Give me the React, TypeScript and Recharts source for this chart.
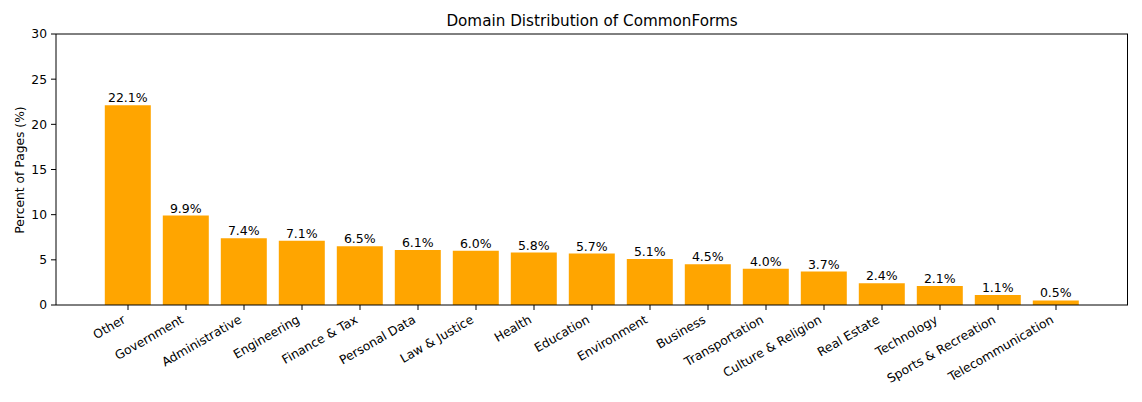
import React from "react";
import { BarChart, Bar, XAxis, YAxis, LabelList, ReferenceLine } from "recharts";

const categories = [
  "Other", "Government", "Administrative", "Engineering", "Finance & Tax",
  "Personal Data", "Law & Justice", "Health", "Education", "Environment",
  "Business", "Transportation", "Culture & Religion", "Real Estate",
  "Technology", "Sports & Recreation", "Telecommunication",
];
const percents = [22.1, 9.9, 7.4, 7.1, 6.5, 6.1, 6.0, 5.8, 5.7, 5.1, 4.5, 4.0, 3.7, 2.4, 2.1, 1.1, 0.5];
const yTicks = [0, 5, 10, 15, 20, 25, 30];

const data = categories.map((name, i) => ({ name, value: percents[i] }));

const FONT = "'DejaVu Sans', sans-serif";

const XTick = (props: any) => {
  const { x, y, payload } = props;
  const ax = x - 1.5;
  const ay = y + 12;
  return (
    <text
      x={ax}
      y={ay}
      textAnchor="end"
      fontSize={12.3}
      fontFamily={FONT}
      fill="#000"
      transform={`rotate(-30, ${ax}, ${ay})`}
    >
      {payload.value}
    </text>
  );
};

const BarLabel = (props: any) => {
  const { x, y, width, value } = props;
  return (
    <text
      x={x + width / 2}
      y={y - 3}
      textAnchor="middle"
      fontSize={12.5}
      fontFamily={FONT}
      fill="#000"
    >
      {Number(value).toFixed(1) + "%"}
    </text>
  );
};

export default function App() {
  return (
    <div style={{ position: "absolute", left: 0, top: 0, width: 1142, height: 402, background: "#fff" }}>
      <div
        style={{
          position: "absolute",
          left: 0,
          width: 1184,
          top: 12,
          textAlign: "center",
          fontFamily: FONT,
          fontSize: 15.2,
          color: "#000",
          lineHeight: "18px",
        }}
      >
        Domain Distribution of CommonForms
      </div>
      <div
        style={{
          position: "absolute",
          left: 20,
          top: 170,
          transform: "translate(-50%, -50%) rotate(-90deg)",
          fontFamily: FONT,
          fontSize: 12.3,
          color: "#000",
          whiteSpace: "nowrap",
          lineHeight: "14px",
        }}
      >
        Percent of Pages (%)
      </div>
      <BarChart
        width={1142}
        height={402}
        data={data}
        margin={{ top: 34, right: 14, bottom: 0, left: 6 }}
        barCategoryGap="10%"
        style={{ position: "absolute", left: 0, top: 0 }}
      >
        <XAxis
          dataKey="name"
          interval={0}
          height={97}
          padding={{ left: 43, right: 43 }}
          stroke="#000"
          tickSize={5}
          tickMargin={0}
          tick={<XTick />}
        />
        <YAxis
          domain={[0, 30]}
          ticks={yTicks}
          width={50}
          stroke="#000"
          tickSize={5}
          tickMargin={4}
          allowDataOverflow
          tick={{ fontSize: 12.3, fontFamily: FONT, fill: "#000" }}
        />
        <ReferenceLine y={30} stroke="#000" strokeWidth={1} ifOverflow="visible" />
        <Bar dataKey="value" fill="#FFA500" isAnimationActive={false}>
          <LabelList dataKey="value" content={<BarLabel />} />
        </Bar>
      </BarChart>
      <div
        style={{
          position: "absolute",
          left: 1127,
          top: 34,
          width: 1,
          height: 271,
          background: "#000",
        }}
      />
    </div>
  );
}
